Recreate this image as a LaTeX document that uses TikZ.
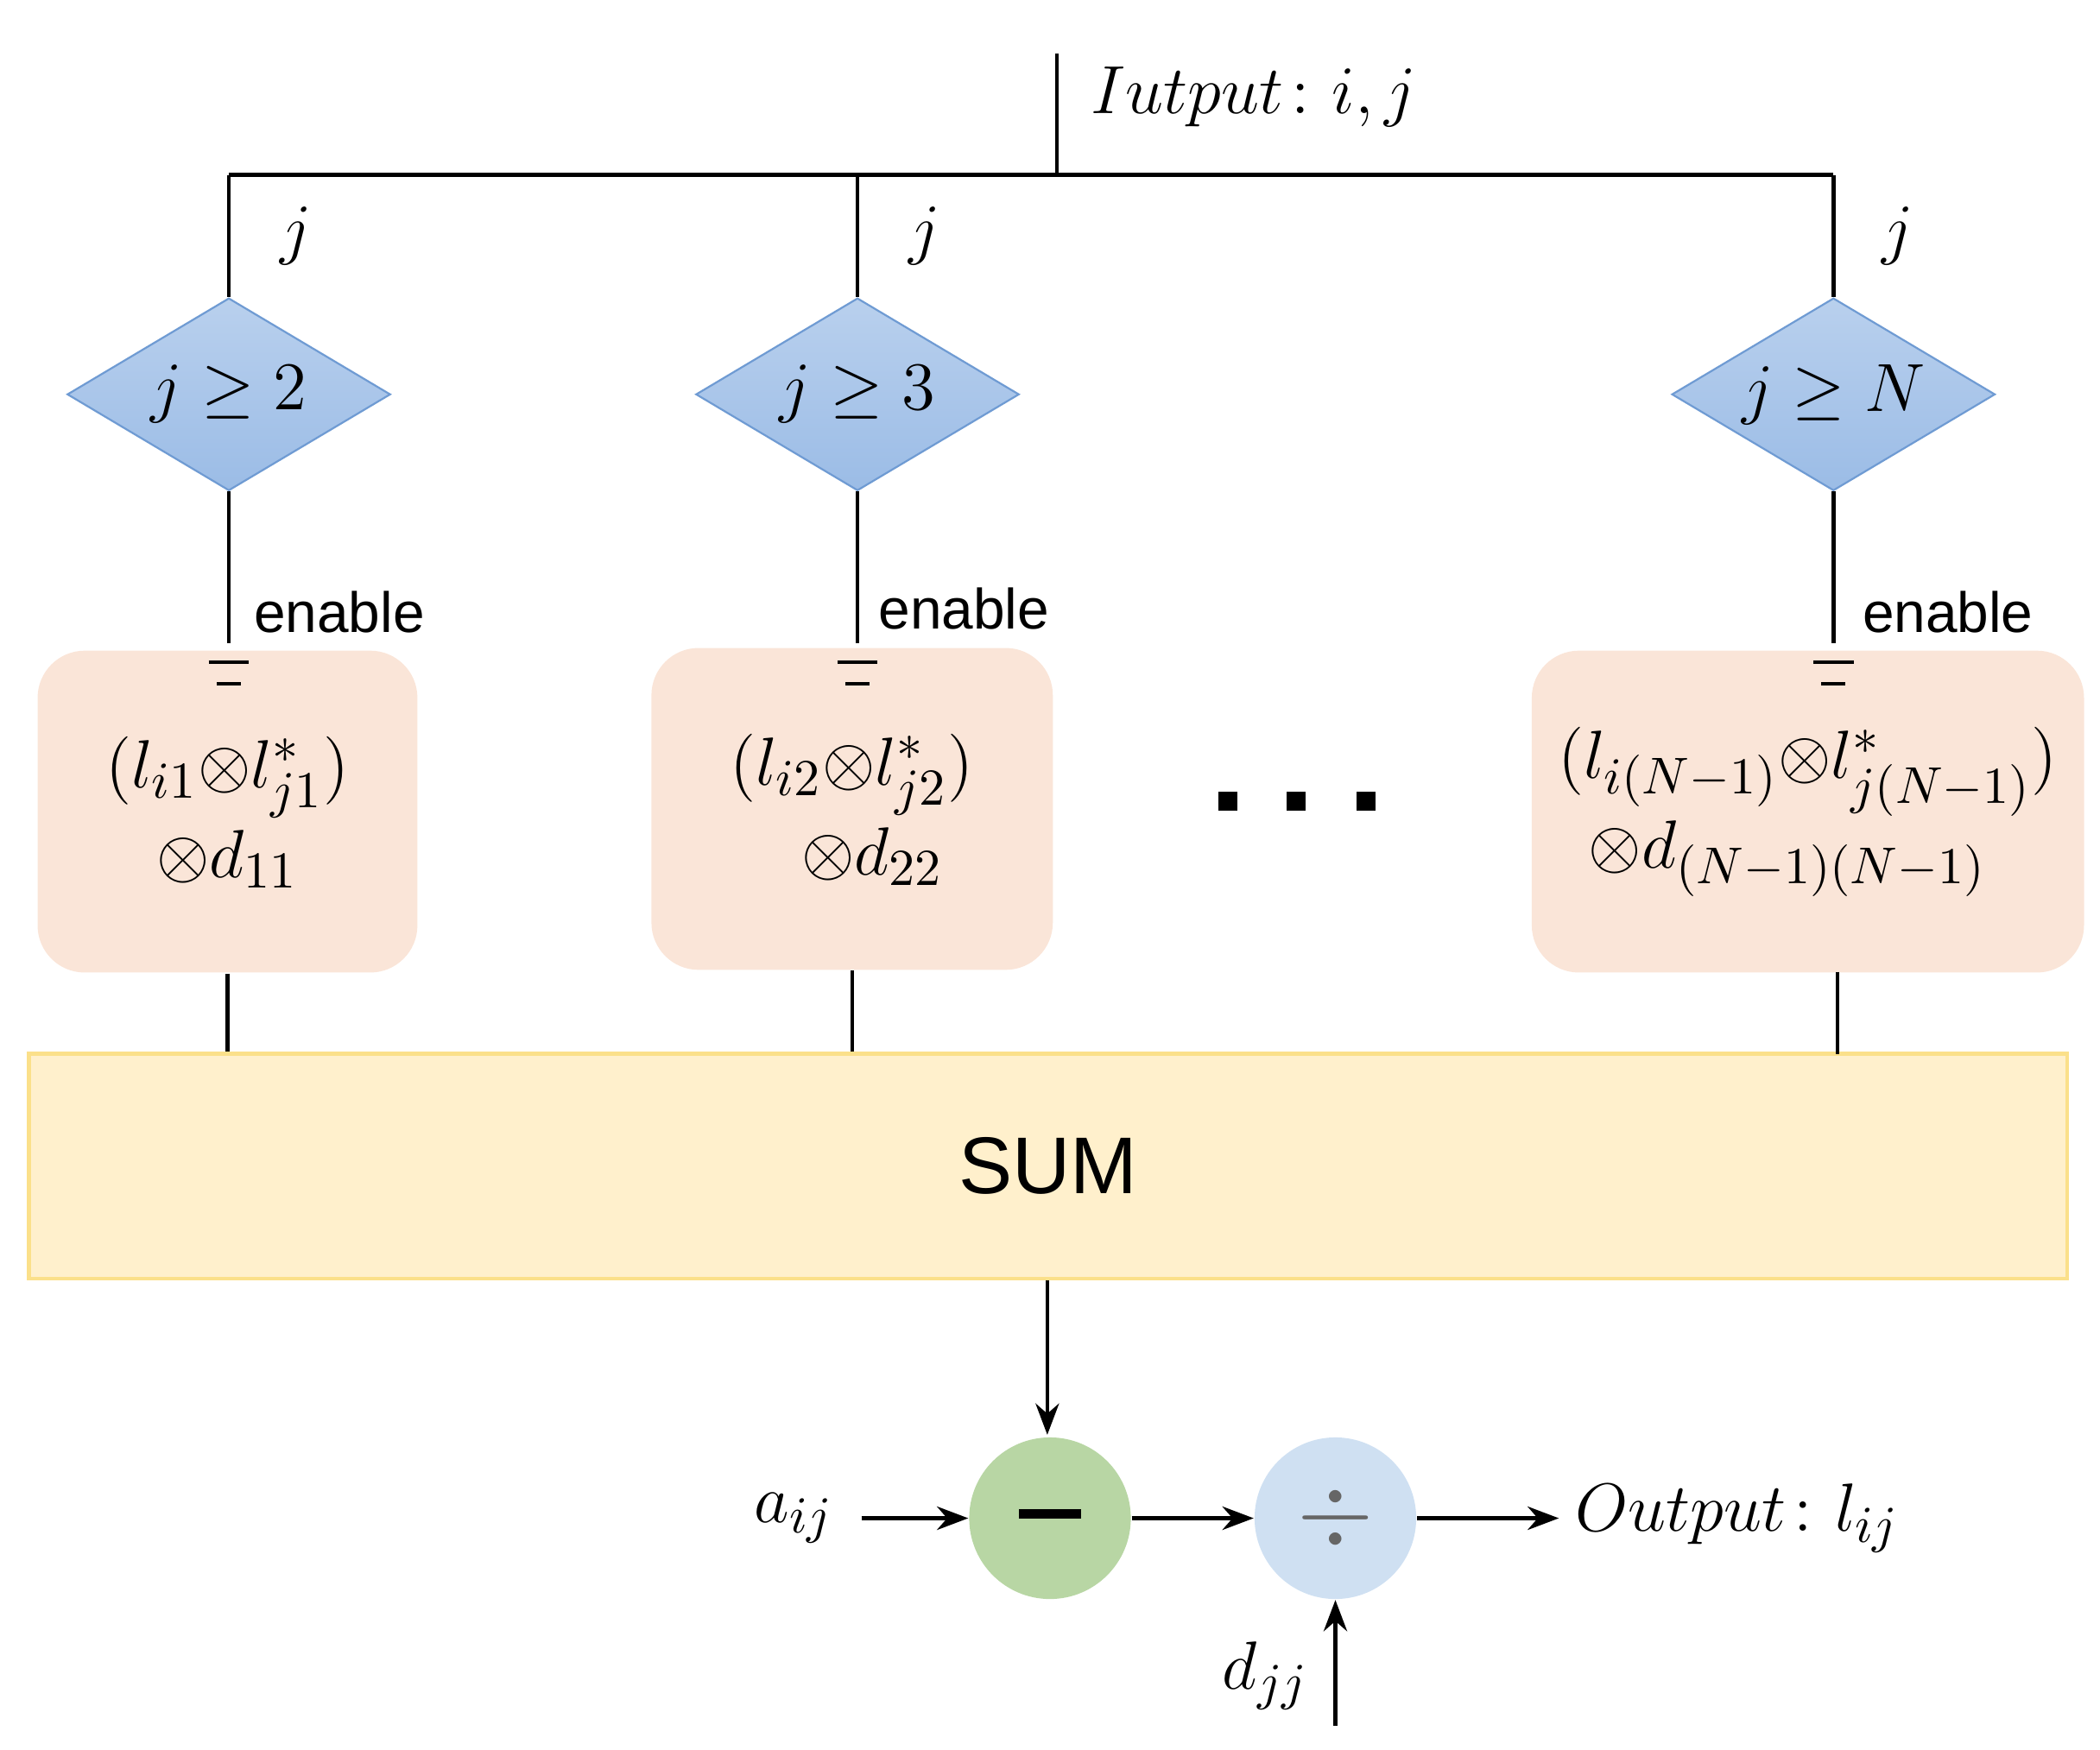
\documentclass[tikz,border=0pt]{standalone}
\usepackage{amsmath}
\usepackage{fontspec}
\setmainfont{Liberation Sans}
\usetikzlibrary{positioning, arrows.meta, shapes.geometric}
\definecolor{dfill}{HTML}{9BBCE6}
\definecolor{ddraw}{HTML}{6F9BD3}
\definecolor{bfill}{HTML}{FAE5D8}
\definecolor{sfill}{HTML}{FFF0CC}
\definecolor{sdraw}{HTML}{FBE08A}
\definecolor{mfill}{HTML}{B8D6A4}
\definecolor{vfill}{HTML}{CFE0F2}
\begin{document}
\begin{tikzpicture}[
    x=0.01cm, y=-0.01cm,
    >=Stealth,
    cond/.style={diamond, draw=ddraw, top color=dfill!70, bottom color=dfill, minimum width=2.4cm, minimum height=1.43cm, inner sep=0pt},
    calc/.style={rounded corners=0.35cm, fill=bfill, inner sep=0pt, align=center, font=\fontsize{15.5}{19}\selectfont},
    op/.style={circle, minimum size=1.2cm, inner sep=0pt},
    lab/.style={font=\fontsize{15}{17}\selectfont},
    en/.style={font=\fontsize{12}{14}\selectfont},
    wire/.style={thick, black},
]
\useasboundingbox (0,0) rectangle (1560,1300);

% === Input and bus ===
\coordinate (in) at (785,40);
\coordinate (bus) at (785,130);
\coordinate (busL) at (170,130);
\coordinate (busM) at (637,130);
\coordinate (busR) at (1362,130);
\node[lab, anchor=west] (inlab) at (798,72) {$Iutput\colon i,j$};
\draw[wire] (in) -- (bus);
\draw[wire] (busL) -- (busR);

% === Conditions ===
\node[cond] (d1) at (170,293) {};
\node[cond] (d2) at (637,293) {};
\node[cond] (d3) at (1362,293) {};
\node[lab] at (d1) {$j\geq 2$};
\node[lab] at (d2) {$j\geq 3$};
\node[lab] at (d3) {$j\geq N$};
\draw[wire] (busL) -- (d1.north);
\draw[wire] (busM) -- (d2.north);
\draw[wire] (busR) -- (d3.north);
\node[lab] (j1) at (220,175) {$j$};
\node[lab] (j2) at (687,175) {$j$};
\node[lab] (j3) at (1410,175) {$j$};

% === Product blocks ===
\node[calc, minimum width=2.82cm, minimum height=2.39cm] (b1) at (169,603)
    {\\[-8pt]$(l_{i1}{\otimes}l^{*}_{j1})$\\$\otimes d_{11}$};
\node[calc, minimum width=2.98cm, minimum height=2.39cm] (b2) at (633,601)
    {\\[-8pt]$(l_{i2}{\otimes}l^{*}_{j2})$\\$\ \ \otimes d_{22}$};
\node[calc, minimum width=4.10cm, minimum height=2.39cm] (b3) at (1343,603)
    {\\[-8pt]$(l_{i(N-1)}{\otimes}l^{*}_{j(N-1)})$\\$\otimes d_{(N-1)(N-1)}\ \ $};
\foreach \d/\b/\x in {d1/b1/170, d2/b2/637, d3/b3/1362}{
  \coordinate (g\b) at (\x,492);
  \draw[wire] (\d.south) -- (\x,478);
  \draw[thick] ([xshift=-0.15cm]g\b) -- ([xshift=0.15cm]g\b);
  \draw[thick] ([xshift=-0.09cm,yshift=-0.16cm]g\b) -- ([xshift=0.09cm,yshift=-0.16cm]g\b);
}
\node[en] (e1) at (252,455) {enable};
\node[en] (e2) at (716,452) {enable};
\node[en] (e3) at (1447,455) {enable};

% dots
\foreach \x in {912,963,1015}{
  \fill (\x-7,588) rectangle (\x+7,602);
}

% === Sum ===
\node[draw=sdraw, thick, fill=sfill, minimum width=15.13cm, minimum height=1.67cm, font=\fontsize{17}{19}\selectfont] (sum) at (778.5,866.5) {SUM};
\draw[wire] (b1.south) -- (sum.north -| b1.south);
\draw[wire] (b2.south) -- (sum.north -| b2.south);
\draw[wire] (1365,722) -- (1365,783);

% === Output stage ===
\node[op, fill=mfill, minimum size=1.2cm] (sub) at (780,1128) {};
\draw[line width=2pt] (757,1125) -- (803,1125);
\node[op, fill=vfill] (dv) at (992,1128) {\textcolor{black!60}{\fontsize{22}{22}\selectfont$\div$}};
\draw[wire, ->] (sum.south -| 778,0) -- (778,1066);
\node[lab] (a) at (590,1128) {$a_{ij}$};
\draw[wire, ->] (a.east) ++(8,0) -- (sub.west);
\draw[wire, ->] (sub.east) -- (dv.west);
\node[lab, anchor=west] (out) at (1158,1128) {$Output\colon l_{ij}$};
\draw[wire, ->] (dv.east) -- (out.west);
\node[lab] (djj) at (940,1245) {$d_{jj}$};
\coordinate (dsrc) at (992,1282);
\draw[wire, ->] (dsrc) -- (dv.south);
\end{tikzpicture}
\end{document}
